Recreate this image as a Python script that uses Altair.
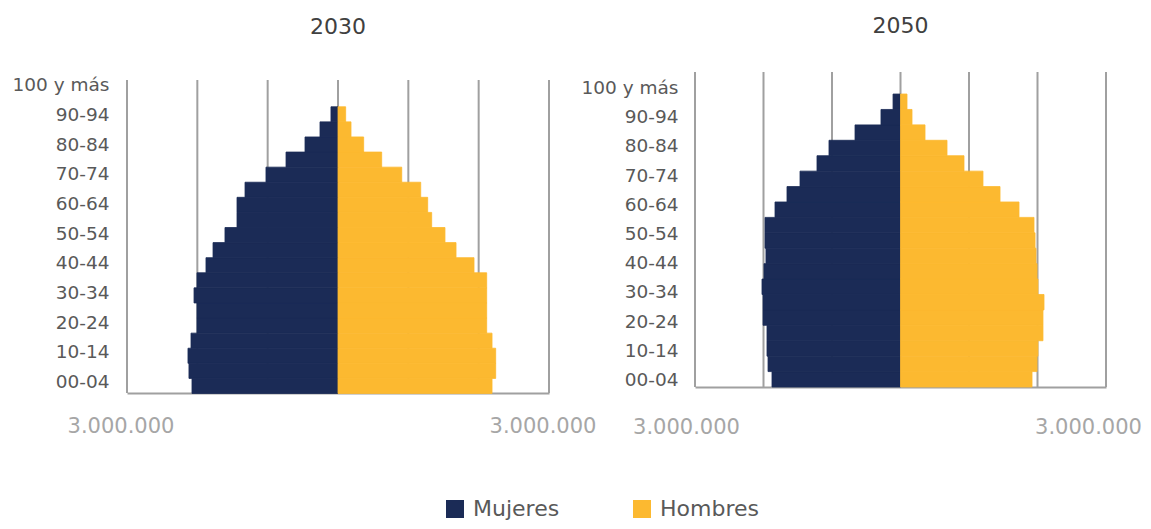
import altair as alt
import pandas as pd

# ---------------- data ----------------
ages = ["00-04", "05-09", "10-14", "15-19", "20-24", "25-29", "30-34", "35-39",
        "40-44", "45-49", "50-54", "55-59", "60-64", "65-69", "70-74", "75-79",
        "80-84", "85-89", "90-94", "95-99", "100 y más"]
age_labels = ["00-04", "10-14", "20-24", "30-34", "40-44", "50-54", "60-64",
              "70-74", "80-84", "90-94", "100 y más"]

mujeres_2030 = [2076000, 2119000, 2133000, 2090000, 2005000, 2005000, 2047000,
                2005000, 1877000, 1777000, 1607000, 1436000, 1436000, 1322000,
                1024000, 739000, 469000, 256000, 100000, 3000, 500]
hombres_2030 = [2190000, 2242000, 2242000, 2190000, 2114000, 2114000, 2114000,
                2114000, 1934000, 1678000, 1521000, 1332000, 1275000, 1176000,
                906000, 621000, 365000, 185000, 109000, 3000, 500]
mujeres_2050 = [1876000, 1934000, 1949000, 1949000, 2007000, 2007000, 2022000,
                1993000, 1964000, 1978000, 1978000, 1832000, 1657000, 1467000,
                1219000, 1044000, 664000, 285000, 109000, 3000, 500]
hombres_2050 = [1920000, 1993000, 2007000, 2080000, 2080000, 2095000, 2007000,
                1993000, 1978000, 1964000, 1949000, 1730000, 1453000, 1204000,
                927000, 679000, 358000, 168000, 95000, 3000, 500]

grid_values = [-3000000, -2000000, -1000000, 0, 1000000, 2000000, 3000000]
end_ticks = [-3000000, 3000000]
sexes = ["Mujeres", "Hombres"]
colors = ["#1B2B56", "#FCB930"]

FONT = "DejaVu Sans"
age_order_top = list(reversed(ages))


def pyramid(year, muj, hom, width, height, bar_range, label_range, grid_top,
            title_offset, xlab_pad, xoff_left, xoff_right, ylab_pad):
    df = pd.DataFrame({
        "edad": ages * 2,
        "sexo": ["Mujeres"] * len(ages) + ["Hombres"] * len(ages),
        "valor": [-v for v in muj] + list(hom),
    })
    grid_df = pd.DataFrame({"g": grid_values})
    xscale = alt.Scale(domain=[-3000000, 3000000], nice=False, zero=False)
    xaxis = alt.Axis(values=end_ticks, labelExpr="'3.000.000'", grid=False,
                     ticks=False, tickSize=0, domain=True, domainColor="#A0A0A0",
                     domainWidth=2, labelColor="#A6A6A6", labelFontSize=21,
                     labelPadding=xlab_pad,
                     labelOffset={"condition": {"test": "datum.value > 0",
                                                "value": xoff_right},
                                  "value": xoff_left},
                     labelFlush=False, labelOverlap=False, title=None,
                     labelFont=FONT)
    legend = alt.Legend(orient="none", legendX=317, legendY=426,
                        direction="horizontal", title=None, symbolType="square",
                        symbolSize=324, symbolStrokeWidth=0, labelFontSize=22,
                        labelColor="#595959", labelOffset=7, columnPadding=71,
                        labelLimit=0, labelFont=FONT)
    color_scale = alt.Scale(domain=sexes, range=colors)

    rules = alt.Chart(grid_df).mark_rule(color="#A0A0A0", strokeWidth=2).encode(
        x=alt.X("g:Q", scale=xscale, axis=xaxis),
        y=alt.value(grid_top),
        y2=alt.value(height),
    )
    bars = alt.Chart(df).transform_filter(
        "abs(datum.valor) > 20000"
    ).mark_bar(strokeWidth=0.8).encode(
        x=alt.X("valor:Q", scale=xscale, axis=xaxis, stack=None),
        y=alt.Y("edad:N", sort=age_order_top,
                scale=alt.Scale(domain=age_order_top, range=bar_range,
                                paddingInner=0, paddingOuter=0),
                axis=None),
        color=alt.Color("sexo:N", scale=color_scale, legend=legend),
        stroke=alt.Stroke("sexo:N", scale=color_scale, legend=None),
    )
    labels = alt.Chart(df).mark_point(opacity=0).encode(
        y=alt.Y("edad:N", sort=age_order_top,
                scale=alt.Scale(domain=age_order_top, range=label_range,
                                paddingInner=0, paddingOuter=0),
                axis=alt.Axis(orient="left", values=age_labels, ticks=False,
                              tickSize=0, domain=False, grid=False, title=None,
                              labelFontSize=18.5, labelColor="#595959",
                              labelPadding=ylab_pad, labelOverlap=False,
                              labelFont=FONT)),
    )
    return alt.layer(rules, bars, labels).resolve_scale(y="independent").properties(
        width=width, height=height,
        title=alt.TitleParams(str(year), fontSize=22, color="#404040",
                              fontWeight="normal", font=FONT, anchor="middle",
                              frame="group", baseline="alphabetic",
                              offset=title_offset),
    )


c2030 = pyramid(2030, mujeres_2030, hombres_2030, 422, 321,
                [4.6, 321.5], [5.5, 317.0], 8, 16, 22, -6.5, -6.5, 18)
c2050 = pyramid(2050, mujeres_2050, hombres_2050, 411, 315,
                [-8.8, 315], [8.0, 315.0], 0, 16, 29, -9, -18, 17)

chart = alt.hconcat(c2030, c2050, spacing=146, bounds="flush").configure(
    font=FONT, padding={"left": 3, "top": 7, "right": 0, "bottom": 0}
).configure_view(stroke=None)

chart.save("out.html", embed_options={"renderer": "svg", "actions": False})
